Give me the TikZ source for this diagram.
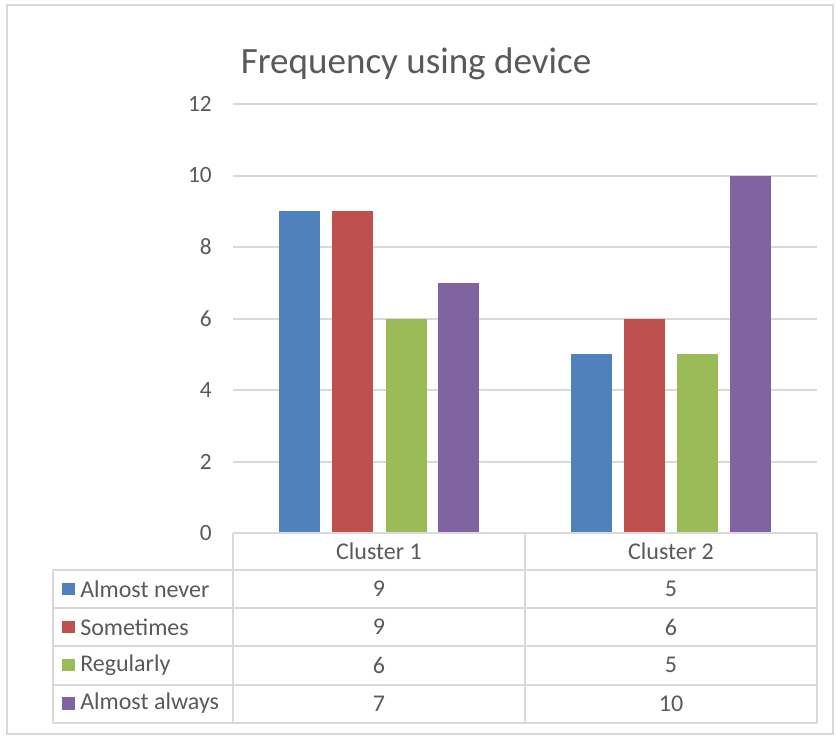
\documentclass[tikz,border=0pt]{standalone}
\usepackage{fontspec}
\setmainfont{Carlito}
\definecolor{nevercol}{HTML}{4F81BD}
\definecolor{somecol}{HTML}{C0504D}
\definecolor{regcol}{HTML}{9BBB59}
\definecolor{alwayscol}{HTML}{8064A2}
\definecolor{linegray}{HTML}{D9D9D9}
\definecolor{textgray}{HTML}{595959}
\tikzset{
  gridline/.style={draw=linegray, line width=1.5pt},
  ticklabel/.style={anchor=east, inner sep=0pt, text=textgray, font=\fontsize{17.5}{17.5}\selectfont},
  celltext/.style={inner sep=0pt, text=textgray, font=\fontsize{18}{18}\selectfont},
  keybox/.style={minimum size=9.5pt, inner sep=0pt, draw=none},
}

\begin{document}
\begin{tikzpicture}[x=0.75pt, y=-0.75pt]
\useasboundingbox (0,0) rectangle (836,736);
% chart frame
\draw[linegray, line width=1.5pt] (7,5) rectangle (833,734);

\node[text=textgray, font=\fontsize{27.8}{27.8}\selectfont] (title) at (416,64) {Frequency using device};

% gridlines and value axis
\draw[gridline] (233,104) -- (817,104);
\draw[gridline] (233,175.5) -- (817,175.5);
\draw[gridline] (233,247) -- (817,247);
\draw[gridline] (233,318.5) -- (817,318.5);
\draw[gridline] (233,390) -- (817,390);
\draw[gridline] (233,461.5) -- (817,461.5);
\node[ticklabel] (y12) at (212,104) {12};
\node[ticklabel] (y10) at (212,175.5) {10};
\node[ticklabel] (y8) at (212,247) {8};
\node[ticklabel] (y6) at (212,318.5) {6};
\node[ticklabel] (y4) at (212,390) {4};
\node[ticklabel] (y2) at (212,461.5) {2};
\node[ticklabel] (y0) at (212,533) {0};

% bars, cluster 1
\fill[nevercol] (279,533) rectangle (320,211.25);
\fill[somecol] (332,533) rectangle (373,211.25);
\fill[regcol] (386,533) rectangle (427,318.5);
\fill[alwayscol] (438,533) rectangle (479,282.75);
% bars, cluster 2
\fill[nevercol] (571,533) rectangle (612,354.25);
\fill[somecol] (624,533) rectangle (665,318.5);
\fill[regcol] (677,533) rectangle (718,354.25);
\fill[alwayscol] (730,533) rectangle (771,175.5);

% data table
\draw[gridline] (233,533) -- (817,533);
\draw[gridline] (53,570) -- (817,570);
\draw[gridline] (53,608) -- (817,608);
\draw[gridline] (53,646) -- (817,646);
\draw[gridline] (53,684.5) -- (817,684.5);
\draw[gridline] (53,723) -- (817,723);
\draw[gridline] (53,570) -- (53,723);
\draw[gridline] (233,533) -- (233,723);
\draw[gridline] (525,533) -- (525,723);
\draw[gridline] (817,533) -- (817,723);

\node[celltext] (c1) at (379,551.5) {Cluster 1};
\node[celltext] (c2) at (671,551.5) {Cluster 2};

\node[keybox, fill=nevercol] (k1) at (68.5,589) {};
\node[keybox, fill=somecol] (k2) at (68.5,627) {};
\node[keybox, fill=regcol] (k3) at (68.5,665) {};
\node[keybox, fill=alwayscol] (k4) at (68.5,703.5) {};
\node[celltext, anchor=west] (l1) at (80,589) {Almost never};
\node[celltext, anchor=west] (l2) at (80,627) {Sometimes};
\node[celltext, anchor=west] (l3) at (80,665) {Regularly};
\node[celltext, anchor=west] (l4) at (80,703.5) {Almost always};

\node[celltext] (v11) at (379,589) {9};
\node[celltext] (v12) at (671,589) {5};
\node[celltext] (v21) at (379,627) {9};
\node[celltext] (v22) at (671,627) {6};
\node[celltext] (v31) at (379,665) {6};
\node[celltext] (v32) at (671,665) {5};
\node[celltext] (v41) at (379,703.5) {7};
\node[celltext] (v42) at (671,703.5) {10};
\end{tikzpicture}
\end{document}
